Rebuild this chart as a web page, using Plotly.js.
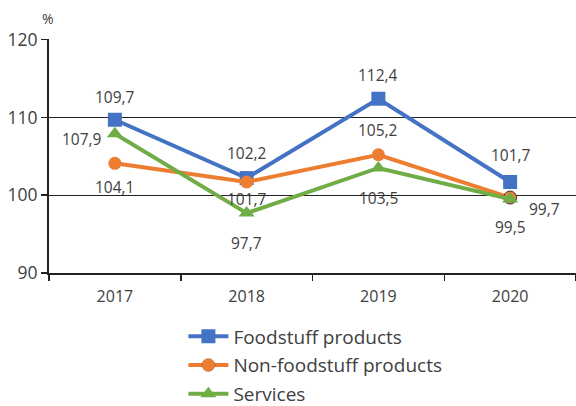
<!DOCTYPE html>
<html><head><meta charset="utf-8">
<script src="https://cdn.plot.ly/plotly-3.0.1.min.js"></script>
<style>html,body{margin:0;padding:0;background:#fff}#c{width:576px;height:406px}</style>
</head><body><div id="c"></div>
<script>
const years = ["2017", "2018", "2019", "2020"];
const foodstuff = [109.7, 102.2, 112.4, 101.7];
const nonFoodstuff = [104.1, 101.7, 105.2, 99.7];
const services = [107.9, 97.7, 103.5, 99.5];
const seriesNames = ["Foodstuff products", "Non-foodstuff products", "Services"];
const yTicks = [90, 100, 110, 120];

const colors = ["#4472C4", "#ED7D31", "#70AD47"];
const symbols = ["square", "circle", "triangle-up"];
const data = [foodstuff, nonFoodstuff, services];
const FONT = "Open Sans, Noto Sans, sans-serif";

const traces = data.map((vals, i) => ({
  type: "scatter", mode: "lines+markers", name: seriesNames[i],
  legendgroup: "g" + i,
  x: years, y: vals,
  line: {color: colors[i], width: 4},
  marker: {symbol: symbols[i], size: i === 1 ? 13 : 14, color: colors[i],
    line: i === 1 ? {color: "#333", width: [0, 0, 0, 1]} : {width: 0}},
  cliponaxis: false
}));

// label offsets (pixels) per series/point
const offs = [
  [[0, 23], [0, 25], [0, 24], [1, 27]],
  [[0, -24], [0, -17], [0, 25], [34, -11]],
  [[-33, -5], [0, -30], [0, -30], [0, -28]]
];
const fmt = v => v.toFixed(1).replace(".", ",");
const annotations = [];
data.forEach((vals, i) => vals.forEach((v, j) => {
  annotations.push({xref: "x", yref: "y", x: j, y: v, text: fmt(v), showarrow: false,
    xshift: offs[i][j][0], yshift: offs[i][j][1],
    font: {family: FONT, size: 15.5, color: "#404040"}});
}));
annotations.push({xref: "paper", yref: "paper", x: -0.001, y: 1, yshift: 21, xanchor: "center", yanchor: "middle", text: "%", showarrow: false,
  font: {family: FONT, size: 14, color: "#404040"}});

const layout = {
  width: 576, height: 406,
  margin: {l: 49, r: 0, t: 39, b: 133, autoexpand: false},
  paper_bgcolor: "#fff", plot_bgcolor: "#fff",
  showlegend: true,
  legend: {orientation: "v", x: 0.255, y: -0.19, xanchor: "left", yanchor: "top",
    font: {family: FONT, size: 19, color: "#404040"},
    tracegroupgap: 1, itemwidth: 40},
  xaxis: {type: "category", range: [-0.5, 3.5], showgrid: false, zeroline: false,
    showline: true, linecolor: "#222", linewidth: 2,
    ticks: "outside", tickson: "boundaries", ticklen: 6, tickcolor: "#222", tickwidth: 1.5,
    ticklabelstandoff: 8,
    tickfont: {family: FONT, size: 16, color: "#404040"}},
  yaxis: {range: [90, 120.08], tickvals: yTicks, showgrid: true, gridcolor: "#222", gridwidth: 1,
    zeroline: false, showline: true, linecolor: "#222", linewidth: 2,
    ticks: "outside", ticklen: 6, tickcolor: "#222", tickwidth: 1.5,
    tickfont: {family: FONT, size: 17.5, color: "#404040"}},
  annotations: annotations
};
Plotly.newPlot("c", traces, layout, {displayModeBar: false, staticPlot: true});
</script></body></html>
